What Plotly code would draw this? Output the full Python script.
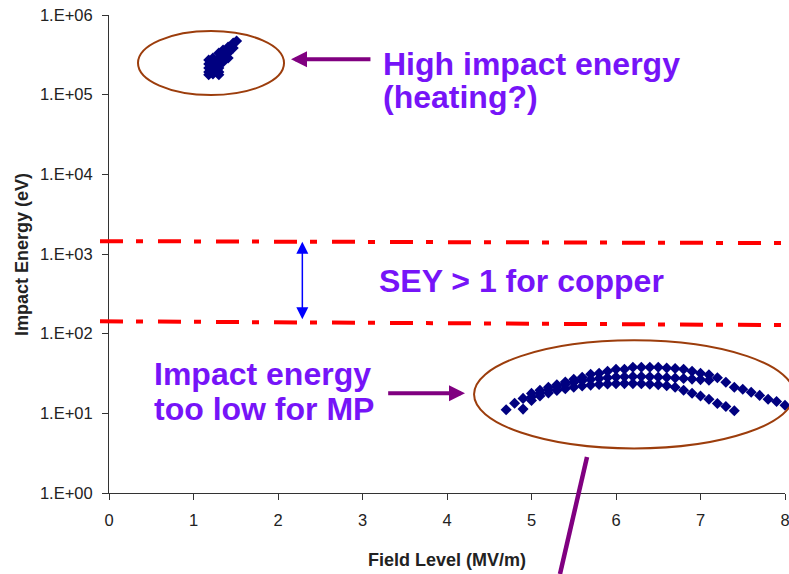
import plotly.graph_objects as go

# ---------------- data ----------------
# high impact-energy cluster (field MV/m, energy eV)
hi_x = [1.18, 1.18, 1.18, 1.18, 1.18, 1.23, 1.23, 1.23, 1.23, 1.23, 1.30, 1.30, 1.30, 1.30,
        1.30, 1.30, 1.35, 1.35, 1.35, 1.41, 1.41, 1.41, 1.47, 1.47, 1.51]
hi_y = [2.72e5, 2.43e5, 2.16e5, 1.93e5, 1.78e5, 2.88e5, 2.55e5, 2.29e5, 2.05e5, 1.82e5,
        3.33e5, 2.88e5, 2.5e5, 2.16e5, 1.93e5, 1.78e5, 3.64e5, 3.05e5, 2.57e5, 3.96e5,
        3.33e5, 2.88e5, 4.46e5, 3.85e5, 4.72e5]

# low impact-energy arcs
arc1_x = [4.7, 4.8, 4.9, 5.0, 5.1, 5.2, 5.3, 5.4, 5.5, 5.6, 5.7, 5.8, 5.9, 6.0, 6.1, 6.2, 6.3,
          6.4, 6.5, 6.6, 6.7, 6.8, 6.9, 7.0, 7.1, 7.2, 7.3, 7.4, 7.5, 7.6, 7.7, 7.8, 7.9, 8.0]
arc1_y = [11.1, 13.4, 15.4, 17.8, 19.5, 21.2, 22.8, 24.8, 26.7, 28.3, 30.9, 31.8, 33.7, 35.7,
          35.7, 37.9, 37.9, 37.9, 37.9, 37.0, 36.5, 35.7, 33.7, 31.8, 30.4, 28.0, 24.5, 21.2,
          20.1, 18.4, 16.8, 15.0, 14.1, 12.6]

arc2_x = [5.0, 5.1, 5.2, 5.3, 5.4, 5.5, 5.6, 5.7, 5.8, 5.9, 6.0, 6.1, 6.2, 6.3, 6.4, 6.5,
          6.6, 6.7, 6.8, 6.9, 7.0, 7.1]
arc2_y = [16.0, 18.0, 19.8, 21.5, 23.0, 24.4, 25.6, 26.6, 27.4, 28.0, 28.5, 28.8, 29.0, 29.0,
          28.8, 28.5, 28.1, 27.7, 27.3, 26.9, 26.5, 26.0]

arc3_x = [4.9, 5.0, 5.1, 5.2, 5.3, 5.4, 5.5, 5.6, 5.7, 5.8, 5.9, 6.0, 6.1, 6.2, 6.3, 6.4,
          6.5, 6.6, 6.7, 6.8, 6.9, 7.0, 7.1, 7.2, 7.3, 7.4]
arc3_y = [11.3, 14.5, 16.5, 18.0, 19.3, 20.4, 21.3, 22.0, 22.6, 23.0, 23.3, 23.5, 23.6, 23.6,
          23.5, 23.2, 22.8, 22.2, 21.2, 19.5, 17.9, 16.5, 15.0, 13.3, 12.2, 10.8]

x_tickvals = [0, 1, 2, 3, 4, 5, 6, 7, 8]
y_tickvals = [1, 10, 100, 1e3, 1e4, 1e5, 1e6]
y_ticktext = ["1.E+00", "1.E+01", "1.E+02", "1.E+03", "1.E+04", "1.E+05", "1.E+06"]

# SEY > 1 band for copper (eV), at left and right ends of the drawn line
sey_upper = [1450, 1370]
sey_lower = [143, 128]

x_title = "Field Level (MV/m)"
y_title = "Impact Energy (eV)"

# ---------------- style ----------------
W, H = 789, 574
ML, MR, MT, MB = 109, 4, 15, 81
AXC = "#333333"
NAVY = "#000080"
TXT = "#7614F8"
PURPLE = "#800080"
BROWN = "#9C3D0C"
TICKFONT = dict(family="Liberation Sans, Arial, sans-serif", size=16.5, color="#222")
TITLEFONT = dict(family="Liberation Sans, Arial, sans-serif", size=18, color="#222", weight="bold")
BIG = dict(family="Liberation Sans, Arial, sans-serif", size=32, color=TXT, weight="bold")

marker = dict(symbol="diamond", size=8.5, color=NAVY, line=dict(width=0))

fig = go.Figure()
for xs, ys in [(hi_x, hi_y), (arc1_x, arc1_y), (arc2_x, arc2_y), (arc3_x, arc3_y)]:
    fig.add_trace(go.Scatter(x=xs, y=ys, mode="markers", marker=marker,
                             showlegend=False, cliponaxis=False, hoverinfo="skip"))

shapes = []
# red dash-dot SEY lines
for vals in (sey_upper, sey_lower):
    shapes.append(dict(type="line", xref="paper", yref="y", x0=-0.0133, x1=1.006,
                       y0=vals[0], y1=vals[1],
                       line=dict(color="#FF0000", width=4, dash="23px,13px,7px,15px")))
# ellipses
shapes.append(dict(type="circle", xref="paper", yref="y", x0=0.0429, x1=0.2589,
                   y0=9.88e4, y1=6.3e5, line=dict(color=BROWN, width=2)))
shapes.append(dict(type="circle", xref="paper", yref="y", x0=0.540, x1=1.0133,
                   y0=3.63, y1=82.6, line=dict(color=BROWN, width=2)))
# purple pointer line below the chart
shapes.append(dict(type="line", xref="x", yref="paper", x0=5.657, y0=0.0753,
                   x1=5.337, y1=-0.1695, line=dict(color=PURPLE, width=4.5)))

ann = []
# axis titles
ann.append(dict(text=y_title, xref="paper", yref="paper", x=-0.1287, y=0.5, textangle=-90,
                showarrow=False, font=TITLEFONT, xanchor="center", yanchor="middle"))
ann.append(dict(text=x_title, xref="paper", yref="paper", x=0.5, y=-0.1412,
                showarrow=False, font=TITLEFONT, xanchor="center", yanchor="middle"))
# big labels
for txt, px, py in [("High impact energy", 0.4053, 0.8975), ("(heating?)", 0.4058, 0.8285),
                    ("SEY > 1 for copper", 0.3987, 0.4425),
                    ("Impact energy", 0.0666, 0.2498), ("too low for MP", 0.0666, 0.1757)]:
    ann.append(dict(text=txt, xref="paper", yref="paper", x=px, y=py, showarrow=False,
                    font=BIG, xanchor="left", yanchor="middle", borderpad=0, borderwidth=0))
# purple arrows
ann.append(dict(text="", x=2.154, y=5.4437, ax=3.112, ay=5.4437, xref="x", yref="y",
                axref="x", ayref="y", showarrow=True, arrowhead=2, arrowsize=0.8,
                arrowwidth=4, arrowcolor=PURPLE, standoff=0))
ann.append(dict(text="", x=4.213, y=1.2514, ax=3.286, ay=1.2514, xref="x", yref="y",
                axref="x", ayref="y", showarrow=True, arrowhead=2, arrowsize=0.8,
                arrowwidth=4, arrowcolor=PURPLE, standoff=0))
# blue double arrow
ann.append(dict(text="", x=2.288, y=3.154, ax=2.288, ay=2.163, xref="x", yref="y",
                axref="x", ayref="y", showarrow=True, arrowhead=2, arrowsize=1.6,
                startarrowhead=2, startarrowsize=1.6, arrowside="end+start",
                arrowwidth=1.5, arrowcolor="#0000FF", standoff=0, startstandoff=0))

fig.update_layout(
    width=W, height=H,
    margin=dict(l=ML, r=MR, t=MT, b=MB, autoexpand=False),
    paper_bgcolor="white", plot_bgcolor="white",
    shapes=shapes, annotations=ann,
    xaxis=dict(range=[0, 8], tickvals=x_tickvals, showgrid=False, zeroline=False,
               showline=True, linecolor=AXC, linewidth=1, ticks="outside", ticklen=6,
               tickcolor=AXC, tickfont=TICKFONT, ticklabelstandoff=6,
               ticklabeloverflow="allow"),
    yaxis=dict(type="log", range=[0, 6], tickvals=y_tickvals, ticktext=y_ticktext,
               showgrid=False, zeroline=False, showline=True, linecolor=AXC, linewidth=1,
               ticks="outside", ticklen=6, tickcolor=AXC, tickfont=TICKFONT,
               ticklabelstandoff=6),
)

fig.write_html("out.html", config={"displayModeBar": False},
               post_script="document.body.style.margin='0px';")
